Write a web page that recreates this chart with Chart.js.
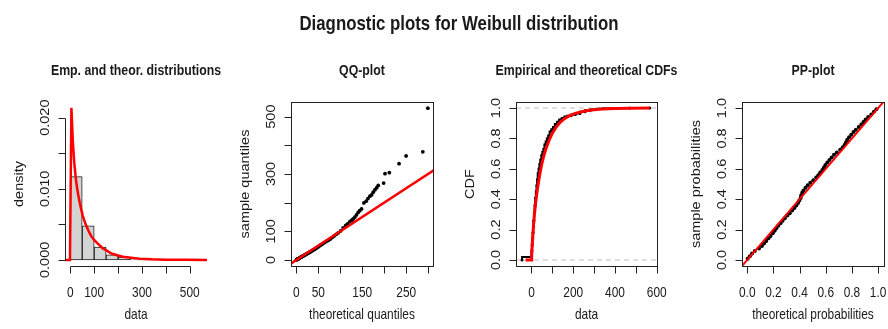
<!DOCTYPE html>
<html lang="en">
<head>
<meta charset="UTF-8">
<title>Diagnostic plots for Weibull distribution</title>
<script src="https://cdn.jsdelivr.net/npm/chart.js@4.4.1/dist/chart.umd.min.js"></script>
<style>
  html, body { margin: 0; padding: 0; background: #fff; }
  #wrap { position: relative; width: 888px; height: 329px; overflow: hidden; }
  #wrap canvas { position: absolute; left: 0; top: 0; }
</style>
</head>
<body>
<div id="wrap">
  <canvas id="c1" width="888" height="329"></canvas>
  <canvas id="c2" width="888" height="329"></canvas>
  <canvas id="c3" width="888" height="329"></canvas>
  <canvas id="c4" width="888" height="329"></canvas>
</div>
<script>
// ---- values ----
const mainTitle = 'Diagnostic plots for Weibull distribution';

// histogram (density scale) + fitted density
const histBreaks = [0, 50, 100, 150, 200, 250, 300, 350, 400, 450, 500, 550];
const histDensity = [0.0117, 0.0048, 0.0018, 0.0007, 0.0004, 0.00015, 0.0001, 0, 0, 0, 0.0001];
const densX = [-22, -1.2, 4.8, 10.8, 16.7, 22.7, 28.6, 34.6, 40.5, 46.5, 52.4, 64.3, 76.2, 88.2, 100, 112, 124, 136, 148, 172, 196, 220, 255, 290, 340, 400, 480, 572];
const densY = [0, 0, 0.0214, 0.0166, 0.0137, 0.0116, 0.0101, 0.0089, 0.0079, 0.0070, 0.0062, 0.0050, 0.0041, 0.0033, 0.0028, 0.0024, 0.0020, 0.0016, 0.0014, 0.0009, 0.00065, 0.00045, 0.0003, 0.00017, 0.00008, 0.00002, 0.000005, 0];

// QQ-plot
const qqTheoretical = [0.2, 0.8, 1.5, 2.3, 3.1, 4.0, 5.0, 6.0, 7.1, 8.2, 9.4, 10.6, 11.9, 13.2, 14.6, 16.0, 17.5, 19.0, 20.6, 22.2, 23.9, 25.7, 27.5, 29.4, 31.4, 33.4, 35.5, 37.7, 40.0, 42.4, 44.9, 47.5, 50.2, 53.0, 56.0, 59.1, 62.4, 65.8, 69.4, 73.2, 77.2, 81.4, 85.9, 90.6, 95.6, 100.9, 106.6, 112.6, 117.0, 121.8, 126.0, 129.4, 133.0, 137.0, 140.8, 144.4, 148.5, 153.8, 159.0, 163.0, 167.5, 171.3, 175.0, 179.0, 183.0, 186.5, 198.7, 201.8, 211.7, 233.8, 249.8, 287.8, 299.3];
const qqSample = [0.5, 1.0, 1.8, 2.5, 3.0, 3.6, 4.5, 5.3, 6.5, 7.6, 8.8, 9.7, 10.8, 12.0, 13.1, 14.2, 15.8, 17.1, 18.4, 19.9, 21.6, 22.9, 24.8, 26.0, 27.9, 29.6, 31.8, 33.9, 36.3, 38.2, 40.7, 43.3, 46.1, 49.2, 52.4, 55.3, 58.9, 62.5, 66.1, 68.5, 73.0, 78.0, 83.5, 89.0, 94.8, 101.5, 112.0, 120.5, 126.0, 133.5, 138.5, 143.0, 149.0, 157.0, 166.0, 172.0, 178.0, 199.0, 205, 214, 222.5, 227.0, 236.5, 245.0, 252, 260.0, 268.2, 301.0, 304.5, 336.0, 363.0, 377.1, 529.4];
const qqRef = [-20, 320];

// empirical and theoretical CDFs
const ecdfX = [-45, 0.5, 2, 4, 6, 8, 10, 12, 15, 18, 21, 24, 27, 30, 34, 38, 42, 47, 52, 57, 62, 68, 74, 80, 87, 95, 103, 112, 122, 133, 145, 158, 172, 190, 210, 232, 256, 282, 310, 345, 400, 470, 566];
const ecdfY = [0, 0.02, 0.06, 0.10, 0.14, 0.18, 0.22, 0.26, 0.31, 0.36, 0.41, 0.45, 0.49, 0.53, 0.57, 0.60, 0.63, 0.66, 0.69, 0.71, 0.73, 0.76, 0.78, 0.80, 0.82, 0.845, 0.86, 0.875, 0.895, 0.91, 0.925, 0.935, 0.945, 0.95, 0.957, 0.965, 0.975, 0.985, 0.99, 0.995, 0.998, 1.0, 1.0];
const cdfX = [-28, -1, 1, 5, 10, 15, 20, 25, 30, 40, 50, 60, 70, 85, 100, 120, 140, 160, 180, 210, 240, 270, 300, 340, 400, 480, 566];
const cdfY = [0, 0, 0.03, 0.13, 0.23, 0.31, 0.375, 0.43, 0.48, 0.565, 0.635, 0.69, 0.735, 0.79, 0.835, 0.878, 0.91, 0.932, 0.948, 0.965, 0.976, 0.984, 0.989, 0.994, 0.998, 0.9995, 1];
const cdfGuides = [0, 1];

// PP-plot
const ppTheoretical = [0.003, 0.020, 0.037, 0.058, 0.090, 0.112, 0.128, 0.145, 0.162, 0.178, 0.195, 0.210, 0.222, 0.237, 0.254, 0.270, 0.287, 0.306, 0.325, 0.343, 0.360, 0.375, 0.388, 0.398, 0.408, 0.412, 0.420, 0.430, 0.445, 0.462, 0.482, 0.505, 0.527, 0.543, 0.558, 0.574, 0.586, 0.597, 0.612, 0.628, 0.645, 0.663, 0.685, 0.710, 0.730, 0.745, 0.755, 0.764, 0.778, 0.795, 0.812, 0.830, 0.852, 0.872, 0.888, 0.905, 0.924, 0.948, 0.968, 0.987];
const ppSample = [0.008, 0.025, 0.042, 0.058, 0.075, 0.092, 0.108, 0.125, 0.142, 0.158, 0.175, 0.192, 0.208, 0.225, 0.242, 0.258, 0.275, 0.292, 0.308, 0.325, 0.342, 0.358, 0.375, 0.392, 0.408, 0.425, 0.442, 0.458, 0.475, 0.492, 0.508, 0.525, 0.542, 0.558, 0.575, 0.592, 0.608, 0.625, 0.642, 0.658, 0.675, 0.692, 0.708, 0.725, 0.742, 0.758, 0.775, 0.792, 0.808, 0.825, 0.842, 0.858, 0.875, 0.892, 0.908, 0.925, 0.942, 0.958, 0.975, 0.992];
const ppRef = [-0.1, 1.1];

// ticks and tick labels
const histXTicks = [0, 100, 200, 300, 400, 500];
const histXLabels = [0, 100, 300, 500];
const histYTicks = [0, 0.005, 0.01, 0.015, 0.02];
const histYLabels = [0, 0.01, 0.02];
const qqXTicks = [0, 50, 100, 150, 200, 250, 300];
const qqXLabels = [0, 50, 150, 250];
const qqYTicks = [0, 100, 200, 300, 400, 500];
const qqYLabels = [0, 100, 300, 500];
const cdfXTicks = [0, 100, 200, 300, 400, 500, 600];
const cdfXLabels = [0, 200, 400, 600];
const probTicks = [0, 0.2, 0.4, 0.6, 0.8, 1];

// ---- drawing ----
const W = 888, H = 329, SX = 0.82;
const FONT = "'Liberation Sans', Arial, Helvetica, sans-serif";
const LABEL = '14.5px ' + FONT;
const RED = '#ff0000';

const pts = (xs, ys) => xs.map((x, i) => ({ x: x, y: ys[i] }));

// text squeezed horizontally like the reference
function rText(ctx, s, px, py, font, rot) {
    ctx.save();
    ctx.translate(px, py);
    ctx.scale(SX, 1);
    if (rot) ctx.rotate(rot);
    ctx.font = font;
    ctx.textAlign = 'center';
    ctx.textBaseline = 'alphabetic';
    ctx.fillText(s, 0, 0);
    ctx.restore();
}

// R style axes, box and titles
function rAxes(spec) {
    return {
        id: 'rAxes',
        afterDraw(chart) {
            const { ctx, chartArea: a, scales: { x, y } } = chart;
            const seg = (x1, y1, x2, y2) => { ctx.beginPath(); ctx.moveTo(x1, y1); ctx.lineTo(x2, y2); ctx.stroke(); };
            const px = v => Math.round(x.getPixelForValue(v)) + 0.5;
            const py = v => Math.round(y.getPixelForValue(v)) + 0.5;
            const L = Math.round(a.left) + 0.5, R = Math.round(a.right) + 0.5;
            const T = Math.round(a.top) + 0.5, B = Math.round(a.bottom) + 0.5;
            ctx.save();
            ctx.strokeStyle = '#222';
            ctx.fillStyle = '#1a1a1a';
            ctx.lineWidth = 1;
            if (spec.box) ctx.strokeRect(L, T, R - L, B - T);

            const xt = spec.xTicks, yt = spec.yTicks;
            seg(px(xt[0]), B, px(xt[xt.length - 1]), B);
            xt.forEach(v => seg(px(v), B, px(v), B + 7));
            spec.xLabels.forEach(v => rText(ctx, v.toFixed(spec.xDigits), x.getPixelForValue(v), a.bottom + 31, LABEL));

            seg(L, py(yt[0]), L, py(yt[yt.length - 1]));
            yt.forEach(v => seg(L - 7, py(v), L, py(v)));
            spec.yLabels.forEach(v => rText(ctx, v.toFixed(spec.yDigits), a.left - 16, y.getPixelForValue(v), LABEL, -Math.PI / 2));

            const cx = (a.left + a.right) / 2, cy = (a.top + a.bottom) / 2;
            rText(ctx, spec.title, cx, 75, 'bold 15px ' + FONT);
            rText(ctx, spec.xTitle, cx, a.bottom + 53, LABEL);
            rText(ctx, spec.yTitle, a.left - 42, cy, LABEL, -Math.PI / 2);
            if (spec.mainTitle) rText(ctx, spec.mainTitle, 459, 30, 'bold 20.5px ' + FONT);
            ctx.restore();
        }
    };
}

function opts(box, xr, yr) {
    return {
        responsive: false,
        animation: false,
        events: [],
        layout: { padding: { left: box[0], top: box[1], right: W - box[2], bottom: H - box[3] } },
        plugins: { legend: { display: false }, tooltip: { enabled: false } },
        scales: {
            x: { type: 'linear', min: xr[0], max: xr[1], display: false, offset: false },
            y: { type: 'linear', min: yr[0], max: yr[1], display: false }
        }
    };
}

// panel 1: histogram + density
const histBars = [];
histDensity.forEach((d, i) => {
    if (d > 0) histBars.push({ x: (histBreaks[i] + histBreaks[i + 1]) / 2, y: d });
});

new Chart(document.getElementById('c1'), {
    type: 'bar',
    data: {
        datasets: [
            { type: 'line', data: pts(densX, densY), borderColor: RED, borderWidth: 2.5, pointRadius: 0, tension: 0, order: 0, clip: 0 },
            { type: 'bar', data: histBars, backgroundColor: '#d3d3d3', borderColor: '#222', borderWidth: 1,
              borderSkipped: false, barPercentage: 1, categoryPercentage: 1, order: 1 }
        ]
    },
    options: opts([65, 102, 207, 266], [-22, 572], [-0.00086, 0.0222]),
    plugins: [rAxes({
        box: false, title: 'Emp. and theor. distributions', xTitle: 'data', yTitle: 'density', mainTitle: mainTitle,
        xTicks: histXTicks, xLabels: histXLabels, xDigits: 0,
        yTicks: histYTicks, yLabels: histYLabels, yDigits: 3
    })]
});

// panel 2: QQ-plot
new Chart(document.getElementById('c2'), {
    type: 'scatter',
    data: {
        datasets: [
            { data: pts(qqRef, qqRef), showLine: true, borderColor: RED, borderWidth: 2.5, pointRadius: 0, order: 0, clip: 0 },
            { data: pts(qqTheoretical, qqSample), pointRadius: 1.9, pointBackgroundColor: '#000', pointBorderWidth: 0, order: 1 }
        ]
    },
    options: opts([291, 102, 433, 266], [-12, 311], [-21, 551]),
    plugins: [rAxes({
        box: true, title: 'QQ-plot', xTitle: 'theoretical quantiles', yTitle: 'sample quantiles',
        xTicks: qqXTicks, xLabels: qqXLabels, xDigits: 0,
        yTicks: qqYTicks, yLabels: qqYLabels, yDigits: 0
    })]
});

// panel 3: CDFs
const cdfXRange = [-74, 601];
new Chart(document.getElementById('c3'), {
    type: 'scatter',
    data: {
        datasets: [
            { data: pts(cdfX, cdfY), showLine: true, borderColor: RED, borderWidth: 3, pointRadius: 0, order: 0, clip: 0 },
            { data: pts(ecdfX, ecdfY), showLine: true, stepped: 'after', borderColor: '#000', borderWidth: 2,
              pointRadius: 1.5, pointBackgroundColor: '#000', pointBorderWidth: 0, order: 1, clip: 0 }
        ].concat(cdfGuides.map(g => ({
            data: pts(cdfXRange, [g, g]), showLine: true, borderColor: '#bdbdbd', borderWidth: 1,
            borderDash: [5, 4], pointRadius: 0, order: 2, clip: 0
        })))
    },
    options: opts([516, 102, 657, 266], cdfXRange, [-0.04, 1.04]),
    plugins: [rAxes({
        box: true, title: 'Empirical and theoretical CDFs', xTitle: 'data', yTitle: 'CDF',
        xTicks: cdfXTicks, xLabels: cdfXLabels, xDigits: 0,
        yTicks: probTicks, yLabels: probTicks, yDigits: 1
    })]
});

// panel 4: PP-plot
new Chart(document.getElementById('c4'), {
    type: 'scatter',
    data: {
        datasets: [
            { data: pts(ppRef, ppRef), showLine: true, borderColor: RED, borderWidth: 2, pointRadius: 0, order: 0, clip: 0 },
            { data: pts(ppTheoretical, ppSample), pointRadius: 2, pointBackgroundColor: '#000', pointBorderWidth: 0, order: 1 }
        ]
    },
    options: opts([742, 102, 884, 266], [-0.04, 1.045], [-0.04, 1.04]),
    plugins: [rAxes({
        box: true, title: 'PP-plot', xTitle: 'theoretical probabilities', yTitle: 'sample probabilities',
        xTicks: probTicks, xLabels: probTicks, xDigits: 1,
        yTicks: probTicks, yLabels: probTicks, yDigits: 1
    })]
});
</script>
</body>
</html>
